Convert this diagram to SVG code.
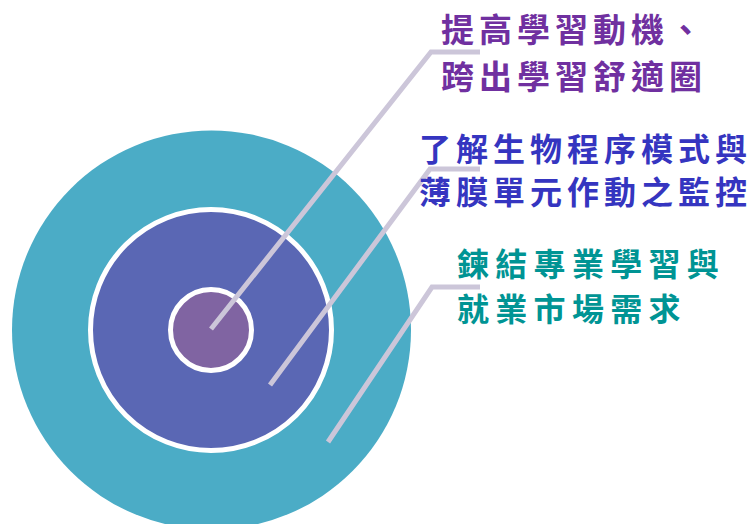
<svg xmlns="http://www.w3.org/2000/svg" width="752" height="524" viewBox="0 0 752 524">
<style>
.lbl{font-family:"Noto Sans CJK TC","Noto Sans CJK SC",sans-serif;font-weight:bold}
.conn{fill:none;stroke:#CCC6D9;stroke-width:5;stroke-linejoin:miter}
.ring{stroke:#FFFFFF;stroke-width:5}
</style>
<rect width="752" height="524" fill="#FFFFFF"/>
<g id="outer"><circle cx="211.5" cy="330" r="199.5" fill="#4BACC6"/></g>
<g id="middle"><circle class="ring" cx="211" cy="330" r="120.5" fill="#5A67B4"/></g>
<g id="inner"><circle class="ring" cx="211" cy="330" r="40.5" fill="#8064A2"/></g>
<g id="connectors">
<polyline class="conn" points="211,329 431,52 480,52"/>
<polyline class="conn" points="270,385 430,169 480,169"/>
<polyline class="conn" points="328,442 432,287 480,287"/>
</g>
<g id="label1">
<text class="lbl" fill="#7030A0" font-size="33" letter-spacing="5" x="441" y="42">提高學習動機、</text>
<text class="lbl" fill="#7030A0" font-size="33" letter-spacing="5" x="441" y="89">跨出學習舒適圈</text>
</g>
<g id="label2">
<text class="lbl" fill="#3535C0" font-size="32" letter-spacing="5" x="419" y="161">了解生物程序模式與</text>
<text class="lbl" fill="#3535C0" font-size="32" letter-spacing="5" x="419" y="204">薄膜單元作動之監控</text>
</g>
<g id="label3">
<text class="lbl" fill="#009494" font-size="32" letter-spacing="6.3" x="457" y="276">鍊結專業學習與</text>
<text class="lbl" fill="#009494" font-size="32" letter-spacing="6.3" x="457" y="321">就業市場需求</text>
</g>
</svg>
